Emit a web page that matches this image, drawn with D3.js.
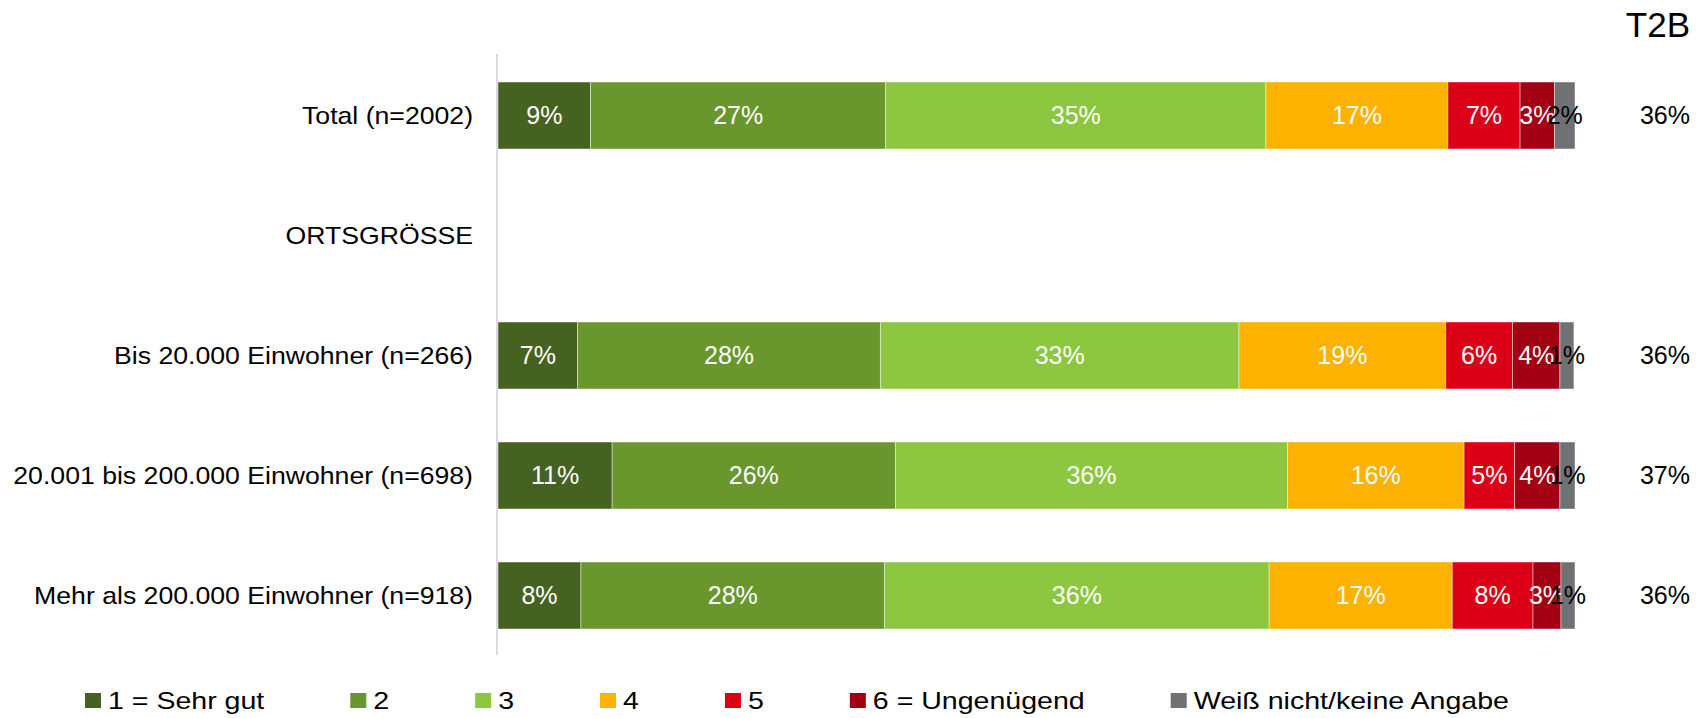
<!DOCTYPE html>
<html>
<head>
<meta charset="utf-8">
<script src="https://cdn.jsdelivr.net/npm/d3@7"></script>
<style>
    body { margin: 0; background: #fff; }
    text { font-family: "Liberation Sans", Arial, sans-serif; }
</style>
</head>
<body>
<script>
// chart data
var categories = [
    'Total (n=2002)',
    'ORTSGRÖSSE',
    'Bis 20.000 Einwohner (n=266)',
    '20.001 bis 200.000 Einwohner (n=698)',
    'Mehr als 200.000 Einwohner (n=918)'
];
var seriesNames = ['1 = Sehr gut', '2', '3', '4', '5', '6 = Ungenügend', 'Weiß nicht/keine Angabe'];
// one array per answer, one value per category (null = heading row, no bar)
var sehrGut    = [8.6, null, 7.4, 10.6, 7.7];
var note2      = [27.4, null, 28.1, 26.3, 28.2];
var note3      = [35.3, null, 33.3, 36.4, 35.7];
var note4      = [16.9, null, 19.2, 16.4, 17.0];
var note5      = [6.7, null, 6.2, 4.7, 7.5];
var ungenuegend = [3.2, null, 4.4, 4.2, 2.6];
var weissNicht = [1.9, null, 1.3, 1.4, 1.3];
var t2b = [36, null, 36, 37, 36];
var t2bTitle = 'T2B';

var colors = ['#466220', '#6a962e', '#8dc63f', '#fdb100', '#dc0017', '#a40014', '#707175'];

(function() {
    var w = 1707,
        h = 718;
    var seriesValues = [sehrGut, note2, note3, note4, note5, ungenuegend, weissNicht];

    // table for d3.stack: one row per category with a bar
    var table = categories.map(function(c, i) {
        var row = { category: c };
        seriesNames.forEach(function(s, j) {
            row[s] = seriesValues[j][i];
        });
        return row;
    }).filter(function(d) { return d[seriesNames[0]] !== null; });

    var stacked = d3.stack().keys(seriesNames)(table);

    var svg = d3.select('body')
        .append('svg')
        .attr('width', w)
        .attr('height', h);

    var x = d3.scaleLinear()
        .domain([0, 100])
        .range([498, 1575]);
    var y = d3.scaleBand()
        .domain(categories)
        .range([55.5, 655.5])
        .paddingInner(0.4417)
        .paddingOuter(0.2208);

    // left axis line
    svg.append('line')
        .attr('x1', 497)
        .attr('x2', 497)
        .attr('y1', 54)
        .attr('y2', 655)
        .attr('stroke', '#d9d9d9')
        .attr('stroke-width', 2);

    // category labels (slightly wide lettering as in the original)
    svg.append('g')
        .selectAll('text')
        .data(categories)
        .enter()
        .append('text')
        .attr('transform', function(d) {
            return 'translate(473,' + (y(d) + y.bandwidth() / 2) + ') scale(1.11,1)';
        })
        .attr('dy', '0.35em')
        .attr('text-anchor', 'end')
        .attr('font-size', 24)
        .attr('fill', '#000')
        .text(function(d) { return d; });

    // stacked bars
    var layers = svg.append('g')
        .selectAll('g')
        .data(stacked)
        .enter()
        .append('g')
        .attr('fill', function(d, i) { return colors[i]; });

    layers.selectAll('rect')
        .data(function(d) { return d; })
        .enter()
        .append('rect')
        .attr('x', function(d) { return x(d[0]); })
        .attr('y', function(d) { return y(d.data.category); })
        .attr('width', function(d) { return x(d[1]) - x(d[0]); })
        .attr('height', y.bandwidth())
        .attr('stroke', '#fff')
        .attr('stroke-opacity', 0.6)
        .attr('stroke-width', 0.75);

    // value labels centred in each segment
    layers.selectAll('text')
        .data(function(d, i) {
            return d.map(function(p) { p.series = i; return p; });
        })
        .enter()
        .append('text')
        .attr('x', function(d) { return (x(d[0]) + x(d[1])) / 2; })
        .attr('y', function(d) { return y(d.data.category) + y.bandwidth() / 2; })
        .attr('dy', '0.35em')
        .attr('text-anchor', 'middle')
        .attr('font-size', 25)
        .attr('fill', function(d) { return d.series === 6 ? '#000' : '#fff'; })
        .text(function(d) { return Math.round(d[1] - d[0]) + '%'; });

    // T2B column
    svg.append('text')
        .attr('x', 1690)
        .attr('y', 37)
        .attr('text-anchor', 'end')
        .attr('font-size', 35)
        .attr('fill', '#000')
        .text(t2bTitle);

    svg.append('g')
        .selectAll('text')
        .data(categories.map(function(c, i) { return { category: c, value: t2b[i] }; })
            .filter(function(d) { return d.value !== null; }))
        .enter()
        .append('text')
        .attr('x', 1690)
        .attr('y', function(d) { return y(d.category) + y.bandwidth() / 2; })
        .attr('dy', '0.35em')
        .attr('text-anchor', 'end')
        .attr('font-size', 25)
        .attr('fill', '#000')
        .text(function(d) { return d.value + '%'; });

    // legend: square + label, constant gap between items
    var legend = svg.append('g');
    var lx = 85,
        textScale = 1.19;
    seriesNames.forEach(function(name, i) {
        var item = legend.append('g')
            .attr('transform', 'translate(' + lx + ',693)');
        item.append('rect')
            .attr('width', 16)
            .attr('height', 15)
            .attr('fill', colors[i]);
        var t = item.append('text')
            .attr('transform', 'translate(23,16) scale(' + textScale + ',1)')
            .attr('font-size', 24)
            .attr('fill', '#000')
            .text(name);
        lx += 23 + t.node().getComputedTextLength() * textScale + 86;
    });
})();
</script>
</body>
</html>
